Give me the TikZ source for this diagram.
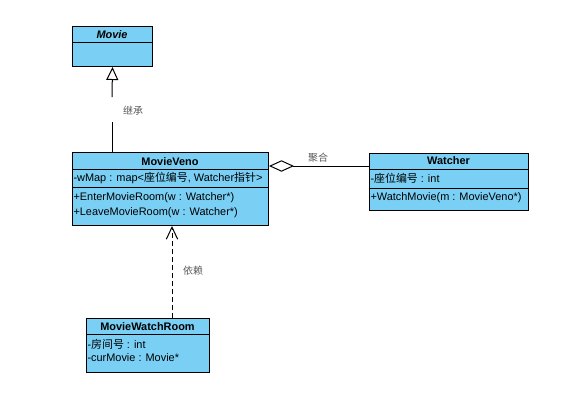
\documentclass[tikz,border=0pt]{standalone}
\usepackage{fontspec}
\setmainfont{Liberation Sans}
\newfontfamily\cjk{Noto Sans CJK SC}
\usetikzlibrary{arrows.meta,calc}
\definecolor{umlblue}{RGB}{122,207,245}
\begin{document}
\begin{tikzpicture}[x=0.75pt,y=-0.75pt, line width=0.75pt,
 cls/.style={draw=black, fill=umlblue, rectangle, inner sep=0pt, anchor=north west},
 ttl/.style={font=\fontsize{8.2pt}{9pt}\selectfont\bfseries, inner sep=0pt},
 mem/.style={font=\fontsize{8.2pt}{9pt}\selectfont, anchor=west, inner sep=0pt},
 lbl/.style={font=\fontsize{7.5pt}{9pt}\selectfont\cjk, text=black!65, inner sep=0pt},
 sep/.style={draw=black, line width=0.75pt},
]
\useasboundingbox (0,0) rectangle (562,401);
% Movie
\node[cls, minimum width=60pt, minimum height=30pt] (movie) at (72,26) {};
\draw[sep] (72,42) -- (152,42);
\node[ttl] (movieT) at (112,35) {\itshape Movie};
% MovieVeno
\node[cls, minimum width=147pt, minimum height=54.75pt] (veno) at (72,152) {};
\draw[sep] (72,169) -- (268,169);
\draw[sep] (72,187) -- (268,187);
\node[ttl] (venoT) at (170,161.5) {MovieVeno};
\node[mem] (venoF) at (73,178) {-wMap : map<{\cjk 座位编号}, Watcher{\cjk 指针}>};
\node[mem] (venoM1) at (73,197.5) {+EnterMovieRoom(w : Watcher*)};
\node[mem] (venoM2) at (73,212.5) {+LeaveMovieRoom(w : Watcher*)};
% Watcher
\node[cls, minimum width=119.25pt, minimum height=42.75pt] (watcher) at (369,153) {};
\draw[sep] (369,169) -- (528,169);
\draw[sep] (369,188) -- (528,188);
\node[ttl] (watcherT) at (448.5,161) {Watcher};
\node[mem] (watcherF) at (370,178) {-{\cjk 座位编号} : int};
\node[mem] (watcherM) at (370,198) {+WatchMovie(m : MovieVeno*)};
% MovieWatchRoom
\node[cls, minimum width=92.25pt, minimum height=40.5pt] (mwr) at (86,318) {};
\draw[sep] (86,334) -- (209,334);
\node[ttl] (mwrT) at (147.5,326.5) {MovieWatchRoom};
\node[mem] (mwrF1) at (87,344) {-{\cjk 房间号} : int};
\node[mem] (mwrF2) at (87,358) {-curMovie : Movie*};
% inheritance
\coordinate (g1) at (112,122);
\coordinate (g2) at (112,97);
\draw ($(veno.north west)+(40,0)$) -- (g1);
\draw[-{Triangle[open, length=9.75pt, width=9pt]}] (g2) -- (movie.south);
\node[lbl] (inh) at (133,111) {继承};
% aggregation
\coordinate (a1) at ($(veno.north east)+(0,14)$);
\draw[{Diamond[open, length=18.75pt, width=8.6pt]}-] (a1) -- (a1 -| watcher.west);
\node[lbl] (agg) at (318,158) {聚合};
% dependency
\coordinate (d1) at ($(mwr.north west)+(86,0)$);
\draw[dash pattern=on 3.75pt off 2.25pt, -{Straight Barb[length=9pt, width=8.5pt]}] (d1) -- (d1 |- veno.south);
\node[lbl] (dep) at (193,271) {依赖};
\end{tikzpicture}
\end{document}
